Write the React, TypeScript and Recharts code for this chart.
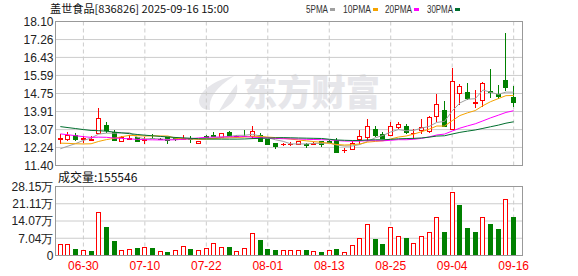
import { Bar, BarChart, CartesianGrid, ComposedChart, Line, XAxis, YAxis } from "recharts";

// trading days shown on the chart
const dates = [
  "06-25", "06-26", "06-27", "06-30", "07-01", "07-02", "07-03", "07-04", "07-07", "07-08",
  "07-09", "07-10", "07-11", "07-14", "07-15", "07-16", "07-17", "07-18", "07-21", "07-22",
  "07-23", "07-24", "07-25", "07-28", "07-29", "07-30", "07-31", "08-01", "08-04", "08-05",
  "08-06", "08-07", "08-08", "08-11", "08-12", "08-13", "08-14", "08-15", "08-18", "08-19",
  "08-20", "08-21", "08-22", "08-25", "08-26", "08-27", "08-28", "08-29", "09-01", "09-02",
  "09-03", "09-04", "09-05", "09-08", "09-09", "09-10", "09-11", "09-12", "09-15", "09-16",
];

const opens = [
  12.62, 12.64, 12.8, 12.64, 12.6, 12.9, 13.3, 12.98, 12.56, 12.62,
  12.71, 12.6, 12.7, 12.64, 12.73, 12.67, 12.64, 12.66, 12.47, 12.77,
  12.81, 12.72, 12.98, 12.79, 12.78, 12.78, 12.83, 12.62, 12.44, 12.38,
  12.39, 12.41, 12.42, 12.41, 12.53, 12.54, 12.6, 12.1, 12.18, 12.62,
  12.72, 13.12, 12.87, 12.81, 13.18, 13.24, 12.9, 13.03, 13.0, 13.69,
  14.0, 13.1, 14.77, 14.8, 14.33, 14.46, 14.88, 14.72, 15.39, 14.58,
];
const highs = [
  12.86, 12.95, 12.9, 12.78, 12.76, 14.07, 13.42, 13.07, 12.78, 12.82,
  12.74, 12.72, 12.86, 12.7, 12.74, 12.74, 12.83, 12.75, 12.56, 12.83,
  12.98, 12.93, 13.0, 12.82, 13.07, 13.26, 12.9, 12.64, 12.45, 12.47,
  12.48, 12.55, 12.43, 12.49, 12.56, 12.6, 12.67, 12.21, 12.53, 13.03,
  13.57, 13.25, 12.95, 13.41, 13.41, 13.34, 13.1, 13.57, 13.68, 14.74,
  14.42, 15.95, 15.17, 15.26, 14.89, 15.27, 15.87, 15.15, 17.57, 15.08,
];
const lows = [
  12.41, 12.56, 12.56, 12.46, 12.56, 12.87, 12.92, 12.56, 12.54, 12.6,
  12.52, 12.41, 12.64, 12.6, 12.42, 12.52, 12.59, 12.44, 12.42, 12.7,
  12.74, 12.7, 12.74, 12.76, 12.74, 12.62, 12.52, 12.37, 12.16, 12.32,
  12.31, 12.39, 12.22, 12.36, 12.25, 12.46, 11.97, 11.98, 12.15, 12.42,
  12.56, 12.72, 12.62, 12.78, 13.1, 12.88, 12.64, 12.87, 12.9, 13.41,
  13.18, 13.05, 14.2, 14.45, 14.08, 14.1, 14.53, 14.48, 14.86, 14.14,
];
const closes = [
  12.66, 12.81, 12.62, 12.66, 12.63, 13.59, 13.03, 12.6, 12.72, 12.7,
  12.54, 12.63, 12.68, 12.64, 12.57, 12.62, 12.68, 12.63, 12.53, 12.74,
  12.79, 12.92, 12.77, 12.79, 12.76, 13.01, 12.53, 12.38, 12.3, 12.4,
  12.41, 12.53, 12.37, 12.44, 12.41, 12.51, 12.02, 12.14, 12.46, 12.75,
  13.26, 12.84, 12.69, 13.26, 13.31, 12.98, 12.93, 13.21, 13.66, 14.24,
  13.22, 15.35, 15.08, 14.53, 14.36, 15.25, 14.8, 14.62, 15.04, 14.35,
];

// closes before 06-25, estimated from where the MA lines start
const historyCloses = [
  14.2, 13.96, 14.08, 13.85, 13.92, 13.74, 13.88, 13.8, 13.77, 13.7,
  13.62, 13.48, 13.55, 13.31, 13.36, 13.2, 13.25, 13.08, 13.12, 13.03,
  12.92, 12.8, 12.74, 12.55, 12.49, 12.2, 12.02, 11.94, 12.08,
];

const volumes = [
  47700, 47700, 28500, 23000, 17700, 178000, 118300, 58400, 23000, 27300,
  31300, 35400, 31300, 19000, 16300, 20400, 38100, 28500, 23000, 31300,
  51700, 35400, 36700, 19000, 31300, 92500, 61200, 28500, 20400, 20400,
  20400, 23000, 20400, 17700, 16300, 23000, 28500, 15000, 43600, 73400,
  126500, 65300, 44900, 117000, 80200, 69400, 49000, 80200, 96600, 157700,
  97900, 259700, 205400, 114200, 97900, 157700, 130500, 106100, 231100, 155546,
];
// r = red (hollow) volume bar, g = green
const volumeColors = [
  "r", "r", "g", "r", "g", "r", "g", "g", "r", "r",
  "g", "r", "g", "r", "g", "r", "r", "g", "r", "r",
  "r", "r", "g", "r", "r", "r", "g", "g", "g", "r",
  "r", "r", "g", "r", "g", "r", "g", "r", "r", "r",
  "r", "g", "g", "r", "r", "g", "r", "r", "r", "r",
  "g", "r", "g", "g", "g", "r", "g", "g", "r", "g",
];

const priceTicks = [11.4, 12.24, 13.07, 13.91, 14.75, 15.59, 16.43, 17.26, 18.1];
const volumeTicks = [0, 70400, 140700, 211100, 281500];
const dateTicks = ["06-30", "07-10", "07-22", "08-01", "08-13", "08-25", "09-04", "09-16"];

const maLines = [
  { key: "ma5", period: 5, label: "5PMA", color: "#a0a0a0" },
  { key: "ma10", period: 10, label: "10PMA", color: "#f5a300" },
  { key: "ma20", period: 20, label: "20PMA", color: "#ff00ff" },
  { key: "ma30", period: 30, label: "30PMA", color: "#006e2e" },
];

const RED = "#ff0000";
const GREEN = "#008000";
const FONT = "'Liberation Sans', Arial, sans-serif";
const WATERMARK = "#e6e6ea";

const allCloses = [...historyCloses, ...closes];
const movingAvg = (period: number, i: number) => {
  const end = historyCloses.length + i;
  let sum = 0;
  for (let k = end - period + 1; k <= end; k++) sum += allCloses[k];
  return sum / period;
};

const data = dates.map((date, i) => {
  const row: any = {
    date,
    open: opens[i],
    high: highs[i],
    low: lows[i],
    close: closes[i],
    vol: volumes[i],
    volUp: volumeColors[i] === "r",
  };
  maLines.forEach((m) => (row[m.key] = movingAvg(m.period, i)));
  return row;
});

const Candle = (props: any) => {
  const { x, y, width, height, payload } = props;
  const { open, close, high, low } = payload;
  const top = Math.min(y, y + height);
  const h = Math.abs(height);
  const ppu = h / (high - low);
  const py = (v: number) => top + (high - v) * ppu;
  const cx = Math.round(x + width / 2 - 0.5) + 0.5;
  const t = Math.round(Math.min(py(open), py(close)));
  const b = Math.round(Math.max(py(open), py(close)));
  const color = close > open ? RED : close < open ? GREEN : "#000";
  const wick = (
    <line x1={cx} x2={cx} y1={Math.round(top)} y2={Math.round(top + h)} stroke={color} strokeWidth={1} />
  );
  if (b - t < 1) {
    return (
      <g>
        {wick}
        <line x1={cx - 2.5} x2={cx + 2.5} y1={t + 0.5} y2={t + 0.5} stroke={color} strokeWidth={1} />
      </g>
    );
  }
  if (close > open) {
    return (
      <g>
        {wick}
        <rect x={cx - 2} y={t + 0.5} width={4} height={b - t} fill="#fff" stroke={RED} strokeWidth={1} />
      </g>
    );
  }
  return (
    <g>
      {wick}
      <rect x={cx - 2.5} y={t} width={5} height={b - t + 1} fill={GREEN} />
    </g>
  );
};

const VolumeBar = (props: any) => {
  const { x, y, width, height, payload } = props;
  const cx = Math.round(x + width / 2 - 0.5) + 0.5;
  const t = Math.round(Math.min(y, y + height));
  const b = Math.round(Math.max(y, y + height));
  if (payload.volUp) {
    return <rect x={cx - 2} y={t + 0.5} width={4} height={b - t - 1} fill="#fff" stroke={RED} strokeWidth={1} />;
  }
  return <rect x={cx - 2.5} y={t} width={5} height={b - t} fill={GREEN} />;
};

const frame = (top: number, height: number) => (
  <div
    style={{
      position: "absolute",
      left: 55,
      top,
      width: 466,
      height,
      border: "1px solid #999",
      pointerEvents: "none",
    }}
  />
);

const App = () => {
  return (
    <div style={{ position: "absolute", left: 0, top: 0, width: 578, height: 276, background: "#fff", overflow: "hidden" }}>
      {/* watermark logo + name */}
      <svg width={578} height={276} style={{ position: "absolute", left: 0, top: 0 }}>
        <path d="M234,76 C215,80 200,90 199,101 C199,106 203,110 210,110 C208,99 216,87 234,76 Z" fill={WATERMARK} />
        <path d="M237,84 C239,96 232,106 219,111 C224,103 229,93 237,84 Z" fill={WATERMARK} />
        <text
          x={243}
          y={106}
          fontSize={36}
          fontWeight={900}
          fontFamily="'Noto Sans CJK SC'"
          fill={WATERMARK}
          textLength={137}
          lengthAdjust="spacingAndGlyphs"
        >
          东方财富
        </text>
      </svg>

      {/* price chart */}
      <div style={{ position: "absolute", left: 0, top: 0 }}>
        <ComposedChart
          width={578}
          height={176}
          data={data}
          margin={{ top: 21.5, right: 55.5, bottom: 10.5, left: 0.5 }}
        >
          <CartesianGrid vertical={false} stroke="#cccccc" />
          <CartesianGrid horizontal={false} stroke="#cccccc" strokeDasharray="4 3" />
          <XAxis dataKey="date" ticks={dateTicks} interval={0} padding={{ left: 1, right: 5 }} hide />
          <YAxis
            type="number"
            domain={[11.4, 18.1]}
            ticks={priceTicks}
            interval={0}
            width={55}
            axisLine={false}
            tickLine={false}
            tickSize={0}
            tickMargin={2}
            tickFormatter={(v: number) => v.toFixed(2)}
            tick={{ fill: "#222", fontSize: 12, fontFamily: FONT }}
          />
          <Bar dataKey={(d: any) => [d.low, d.high]} shape={Candle} isAnimationActive={false} />
          {maLines.map((m) => (
            <Line
              key={m.key}
              dataKey={m.key}
              stroke={m.color}
              strokeWidth={1}
              dot={false}
              activeDot={false}
              type="linear"
              isAnimationActive={false}
            />
          ))}
        </ComposedChart>
      </div>
      {frame(21, 143)}

      {/* volume chart */}
      <div style={{ position: "absolute", left: 0, top: 170 }}>
        <BarChart
          width={578}
          height={106}
          data={data}
          margin={{ top: 16.5, right: 55.5, bottom: 0, left: 0.5 }}
        >
          <CartesianGrid vertical={false} stroke="#cccccc" />
          <CartesianGrid horizontal={false} stroke="#cccccc" strokeDasharray="4 3" />
          <XAxis
            dataKey="date"
            ticks={dateTicks}
            interval={0}
            padding={{ left: 1, right: 5 }}
            height={20.5}
            axisLine={false}
            tickLine={false}
            tickSize={0}
            tickMargin={6}
            tick={{ fill: RED, fontSize: 12, fontFamily: FONT }}
          />
          <YAxis
            type="number"
            domain={[0, 281500]}
            ticks={volumeTicks}
            interval={0}
            width={55}
            axisLine={false}
            tickLine={false}
            tickSize={0}
            tickMargin={2}
            tickFormatter={(v: number) => (v === 0 ? "0" : (v / 10000).toFixed(2) + "万")}
            tick={{ fill: "#222", fontSize: 12, fontFamily: FONT }}
          />
          <Bar dataKey="vol" shape={VolumeBar} isAnimationActive={false} />
        </BarChart>
      </div>
      {frame(186, 68)}

      {/* title, legend and volume label */}
      <svg width={578} height={276} style={{ position: "absolute", left: 0, top: 0, pointerEvents: "none" }}>
        <text x={50} y={13} fontSize={11} fontFamily="'Noto Sans CJK SC'" fill="#111" textLength={179} lengthAdjust="spacingAndGlyphs">
          盖世食品[836826] 2025-09-16 15:00
        </text>
        {maLines.map((m, i) => {
          const xs = [306, 343, 385, 427];
          const ws = [22, 28, 27, 26];
          return (
            <g key={m.key}>
              <text x={xs[i]} y={13} fontSize={10} fontFamily={FONT} fill="#333" textLength={ws[i]} lengthAdjust="spacingAndGlyphs">
                {m.label}
              </text>
              <rect x={xs[i] + ws[i] + 2} y={8} width={5} height={3} fill={m.color} />
            </g>
          );
        })}
        <text x={58} y={181.5} fontSize={12} fontFamily="'Noto Sans CJK SC'" fill="#111">
          成交量:155546
        </text>
      </svg>
    </div>
  );
};

export default App;
